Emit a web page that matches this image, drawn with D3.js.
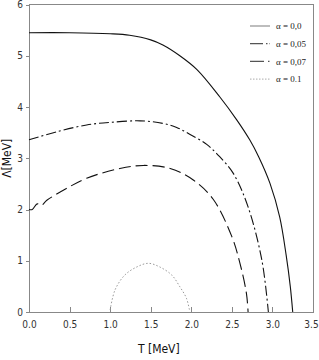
<!DOCTYPE html>
<html>
<head>
<script src="https://d3js.org/d3.v7.min.js"></script>
<style>
    body { margin: 0; background: #fff; }
    .tick text { font: 10px "DejaVu Sans Condensed", "Liberation Sans Narrow", "Liberation Sans", sans-serif; fill: #333; }
    .axis path, .axis line { stroke: #888; shape-rendering: crispEdges; }
    .curve { fill: none; }
    .legend text { font: 9px "Liberation Serif", serif; fill: #222; }
    .axis-title { font: 12px "DejaVu Sans Condensed", "Liberation Sans Narrow", "Liberation Sans", sans-serif; fill: #111; }
</style>
</head>
<body>
<svg width="319" height="360"></svg>
<script>
    // values: T [MeV] and Lambda [MeV]
    const t00 = [0, 0.5, 1.0, 1.24, 1.5, 1.65, 1.85, 2.07, 2.35, 2.56, 2.72, 2.83, 2.97, 3.09, 3.17, 3.22, 3.25];
    const l00 = [5.45, 5.45, 5.43, 5.40, 5.31, 5.21, 5.01, 4.73, 4.20, 3.75, 3.36, 3.03, 2.51, 1.85, 1.10, 0.50, 0];

    const t05 = [0, 0.35, 0.71, 1.0, 1.37, 1.65, 1.82, 1.98, 2.19, 2.35, 2.52, 2.70, 2.87, 2.95];
    const l05 = [3.36, 3.52, 3.65, 3.70, 3.73, 3.68, 3.60, 3.47, 3.27, 3.03, 2.70, 2.05, 1.01, 0];

    const t07 = [0, 0.04, 0.1, 0.15, 0.22, 0.45, 0.71, 1.12, 1.41, 1.74, 2.02, 2.27, 2.50, 2.60, 2.68, 2.70];
    const l07 = [2.0, 2.0, 2.11, 2.08, 2.18, 2.40, 2.61, 2.80, 2.86, 2.80, 2.58, 2.20, 1.47, 0.95, 0.36, 0];

    const t10 = [1.0, 1.06, 1.18, 1.33, 1.47, 1.61, 1.76, 1.86, 1.94, 1.98];
    const l10 = [0.04, 0.43, 0.72, 0.88, 0.95, 0.88, 0.72, 0.49, 0.27, 0.02];

    const seriesNames = ["\u03b1 = 0,0", "\u03b1 = 0,05", "\u03b1 = 0,07", "\u03b1 = 0.1"];
    const xTicks = [0, 0.5, 1.0, 1.5, 2.0, 2.5, 3.0, 3.5];
    const yTicks = [0, 1, 2, 3, 4, 5, 6];

    const styles = [
        {stroke: "#111", dash: null, width: 1.1},
        {stroke: "#111", dash: "10,3,2,3", width: 1.1},
        {stroke: "#111", dash: "12,5", width: 1.1},
        {stroke: "#999", dash: "1.5,2", width: 1}
    ];

    const margin = {top: 4.5, right: 6, bottom: 48, left: 29},
        width = 319 - margin.left - margin.right,
        height = 360 - margin.top - margin.bottom;

    const x = d3.scaleLinear().domain([0, 3.5]).range([0, width]);
    const y = d3.scaleLinear().domain([0, 6]).range([height, 0]);

    const svg = d3.select("svg").append("g")
        .attr("transform", "translate(" + margin.left + "," + margin.top + ")");

    // frame top and right
    svg.append("path")
        .attr("d", "M0,0H" + width + "V" + height)
        .attr("fill", "none").attr("stroke", "#888")
        .attr("shape-rendering", "crispEdges");

    // X axis, ticks inside
    const xAxis = svg.append("g")
        .attr("class", "axis")
        .attr("transform", "translate(0," + height + ")")
        .call(d3.axisBottom(x).tickValues(xTicks).tickFormat(d3.format(".1f"))
            .tickSizeInner(-5).tickSizeOuter(0).tickPadding(9));
    // keep last label inside the window
    xAxis.selectAll(".tick:last-of-type text").attr("dx", "-2");

    // Y axis
    svg.append("g")
        .attr("class", "axis")
        .call(d3.axisLeft(y).tickValues(yTicks).tickFormat(d3.format("d"))
            .tickSizeInner(3).tickSizeOuter(0).tickPadding(3));

    const xs = [t00, t05, t07, t10];
    const ys = [l00, l05, l07, l10];

    const line = d3.line()
        .x(d => x(d[0]))
        .y(d => y(d[1]))
        .curve(d3.curveCatmullRom.alpha(0.5));

    xs.forEach(function(ts, i) {
        const pts = ts.map((t, j) => [t, ys[i][j]]);
        svg.append("path")
            .datum(pts)
            .attr("class", "curve")
            .attr("stroke", styles[i].stroke)
            .attr("stroke-width", styles[i].width)
            .attr("stroke-dasharray", styles[i].dash)
            .attr("d", line);
    });

    // legend
    const legend = svg.selectAll(".legend")
        .data(seriesNames)
        .enter().append("g")
        .attr("class", "legend")
        .attr("transform", (d, i) => "translate(" + (width - 63) + "," + (21.5 + i * 17.7) + ")");

    legend.append("line")
        .attr("x1", 0).attr("x2", 20)
        .attr("stroke", (d, i) => i === 0 ? "#999" : (i === 3 ? "#aaa" : "#555"))
        .attr("stroke-width", (d, i) => i === 3 ? 1 : 1.3)
        .attr("stroke-dasharray", (d, i) => ["", "13,3,1.5,2", "14,4,1.5", "1.5,1.5"][i]);

    legend.append("text")
        .attr("x", 26)
        .attr("dy", "0.35em")
        .text(d => d);

    // axis titles
    svg.append("text")
        .attr("class", "axis-title")
        .attr("text-anchor", "middle")
        .attr("x", x(1.6))
        .attr("y", height + 41)
        .text("T [MeV]");

    svg.append("text")
        .attr("class", "axis-title")
        .attr("text-anchor", "middle")
        .attr("transform", "rotate(-90)")
        .attr("x", -y(3.0))
        .attr("y", -margin.left + 11)
        .text("\u039b[MeV]");
</script>
</body>
</html>
